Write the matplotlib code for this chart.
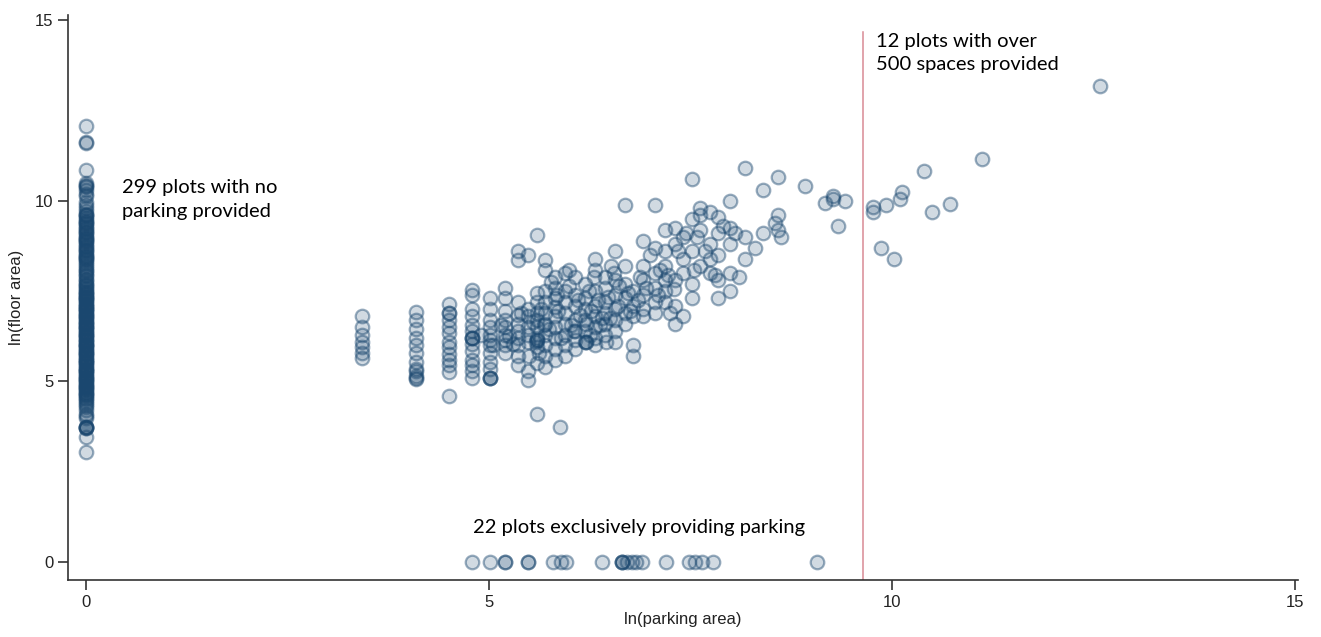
import numpy as np
from matplotlib import pyplot as plt

# plots with no parking (x = 0)
no_parking_y = [12.08, 11.63, 11.6, 10.87, 10.5, 10.45, 10.38, 10.3, 10.15, 9.97, 9.9,
                9.8, 9.72, 9.6, 9.55, 9.45, 9.4, 9.3, 9.22, 9.15, 9.05, 8.98, 8.9, 8.8,
                8.72, 8.65, 8.55, 8.47, 8.4, 8.3, 8.2, 8.1, 8.0, 7.92, 7.85, 7.75, 7.68,
                7.6, 7.5, 7.42, 7.35, 7.3, 7.22, 7.15, 7.08, 7.0, 6.95, 6.88, 6.8, 6.72,
                6.65, 6.6, 6.52, 6.45, 6.38, 6.3, 6.22, 6.15, 6.1, 6.02, 5.95, 5.88, 5.8,
                5.72, 5.65, 5.58, 5.5, 5.42, 5.35, 5.28, 5.2, 5.12, 5.05, 4.98, 4.9,
                4.82, 4.75, 4.68, 4.6, 4.5, 4.4, 4.3, 4.2, 4.1, 4.0, 3.75, 3.72, 3.7,
                3.45, 3.05,
                10.4, 10.2, 9.65, 9.5, 9.35, 9.25, 9.1, 9.0, 8.95, 8.85, 8.75, 8.6,
                8.5, 8.45, 8.35, 8.25, 8.15, 8.05, 7.95, 7.8, 7.7, 7.65, 7.55, 7.45,
                7.4, 7.33, 7.25, 7.18, 7.1, 7.05, 6.98, 6.9, 6.83, 6.75, 6.68, 6.62,
                6.55, 6.48, 6.4, 6.33, 6.25, 6.18, 6.12, 6.05, 5.98, 5.9, 5.83, 5.75,
                5.68, 5.6, 5.53, 5.45, 5.38, 5.3, 5.22, 5.15, 5.08, 5.0, 4.93, 4.85,
                4.78, 4.7, 4.62, 4.55, 4.45, 4.35, 4.05, 3.74,
                9.62, 9.42, 9.18, 8.92, 8.68, 8.42, 7.48, 7.28, 7.02, 6.78, 6.5, 6.28,
                6.0, 5.78, 5.55, 5.32, 5.1, 4.88, 4.65, 3.73]

# plots providing both floor area and parking
both_x = [3.42] * 7 + [4.09] * 10 + [4.50] * 12 + [4.79] * 13 + [5.01] * 11 \
    + [5.20] * 9 + [5.36] * 10 + [5.48] * 8 + [5.60] * 10 + [5.70] * 10 \
    + [5.82] * 9 + [5.88] + [5.94] * 7 + [6.07] * 7 + [6.19] * 6 + [6.32] * 8 \
    + [6.44] * 6 + [6.56] * 7 + [6.69] * 6 + [6.79] * 5 + [6.91] * 6 + [7.06] * 6 \
    + [7.18] * 6 + [7.31] * 5 + [7.41] * 4 + [7.52] * 5 + [7.62] * 4 + [7.74] * 4 \
    + [7.84] * 5 + [7.99] * 5 + [8.18] * 3 + [8.40] * 2 + [8.59] * 3 + [8.92] \
    + [9.17] + [9.27] * 2 + [9.33] + [9.42] \
    + [5.55, 5.65, 5.75, 5.77, 5.86, 5.90, 5.99, 6.02, 6.10, 6.13, 6.24, 6.27,
       6.35, 6.38, 6.48, 6.50, 6.52, 6.60, 6.62, 6.72, 6.75, 6.85, 6.87, 6.95,
       7.00, 7.10, 7.12, 7.22, 7.25, 7.35, 7.45, 7.55, 7.58, 7.68, 7.80, 7.90,
       8.05, 8.10, 8.30, 8.55, 8.62, 5.30, 5.40, 5.15, 5.25, 5.05, 4.90, 5.58,
       5.62, 6.20, 6.45, 6.05, 5.85, 6.30, 6.55, 6.00, 5.50, 5.95, 6.25, 7.30,
       5.01, 5.01, 4.79, 4.79, 4.09, 4.09, 4.50, 5.60, 5.60, 6.20, 6.20, 5.68, 6.40]
both_y = [6.81, 6.5, 6.3, 6.1, 5.95, 5.8, 5.65,
          6.92, 6.7, 6.45, 6.2, 6.0, 5.8, 5.55, 5.35, 5.15, 5.07,
          7.15, 6.9, 6.7, 6.5, 6.35, 6.1, 5.95, 5.75, 5.6, 5.45, 5.25, 4.6,
          7.53, 7.4, 7.0, 6.8, 6.55, 6.4, 6.2, 6.05, 5.85, 5.6, 5.45, 5.3, 5.1,
          7.3, 7.0, 6.7, 6.5, 6.3, 6.15, 6.0, 5.8, 5.55, 5.35, 5.1,
          7.6, 7.3, 6.95, 6.7, 6.5, 6.3, 6.15, 6.0, 5.8,
          8.6, 8.35, 7.2, 6.85, 6.6, 6.4, 6.2, 6.0, 5.7, 5.45,
          8.5, 7.0, 6.8, 6.5, 6.3, 6.1, 5.3, 5.05,
          9.05, 7.45, 7.2, 6.9, 6.7, 6.5, 6.2, 5.95, 5.5, 4.1,
          8.35, 8.1, 7.5, 7.2, 6.9, 6.6, 6.3, 6.0, 5.7, 5.4,
          7.9, 7.6, 7.3, 7.05, 6.8, 6.5, 6.2, 5.9, 5.6,
          3.75,
          8.0, 7.5, 7.2, 6.9, 6.6, 6.3, 6.0,
          7.9, 7.4, 7.1, 6.7, 6.4, 6.15, 5.9,
          7.7, 7.3, 7.0, 6.7, 6.4, 6.1,
          8.4, 8.1, 7.5, 7.1, 6.8, 6.5, 6.2, 6.0,
          7.9, 7.6, 7.2, 6.9, 6.6, 6.3,
          8.6, 7.8, 7.4, 7.0, 6.7, 6.4, 6.1,
          9.9, 8.2, 7.7, 7.3, 6.9, 6.6,
          7.5, 7.1, 6.8, 6.0, 5.7,
          8.9, 8.2, 7.8, 7.4, 7.0, 6.8,
          9.9, 8.7, 8.0, 7.6, 7.2, 6.9,
          9.2, 8.6, 8.2, 7.8, 7.5, 7.2,
          9.25, 8.8, 7.8, 7.1, 6.6,
          9.0, 8.4, 8.0, 6.8,
          10.6, 9.5, 8.6, 7.7, 7.3,
          9.8, 9.6, 9.2, 8.2,
          9.7, 8.8, 8.4, 8.0,
          9.55, 9.1, 8.5, 7.8, 7.3,
          10.0, 9.25, 8.8, 8.0, 7.5,
          10.9, 9.0, 8.4,
          10.3, 9.1,
          10.65, 9.6, 9.2,
          10.4,
          9.95,
          10.05, 10.15,
          9.3,
          10.0,
          6.65, 7.0, 6.45, 7.75, 6.95, 6.2, 7.65, 6.55, 7.25, 6.85, 7.5, 6.95,
          7.25, 6.55, 7.35, 6.75, 8.2, 7.1, 7.65, 7.45, 6.95, 7.25, 7.9, 7.6,
          8.5, 7.4, 8.1, 7.95, 6.9, 8.6, 9.1, 8.1, 9.0, 8.6, 7.95, 9.3,
          9.1, 7.9, 8.7, 9.4, 9.0, 6.05, 6.9, 6.55, 6.25, 6.0, 6.3, 6.1,
          5.8, 6.6, 6.1, 6.4, 7.4, 7.9, 8.0, 8.1, 5.7, 5.7, 6.3, 7.55,
          5.1, 5.1, 6.2, 6.2, 5.1, 5.3, 6.9, 6.15, 6.15, 6.1, 6.1, 6.55, 6.75]

# 12 plots with over 500 spaces
big_x = [12.58, 11.12, 10.40, 10.13, 10.10, 9.93, 9.77, 9.77, 10.72, 10.50, 9.87, 10.03]
big_y = [13.17, 11.16, 10.83, 10.25, 10.05, 9.89, 9.84, 9.69, 9.92, 9.68, 8.70, 8.39]

# plots exclusively providing parking (y = 0)
parking_only_x = [4.79, 5.01, 5.20, 5.20, 5.48, 5.48, 5.80, 5.89, 5.96, 6.40, 6.65,
                  6.65, 6.65, 6.71, 6.77, 6.83, 6.90, 7.20, 7.48, 7.56, 7.64, 7.78, 9.07]

threshold = 9.64


def main():
    plot()


def plot():
    fig = plt.figure(figsize=(13.21, 6.37), dpi=100)
    ax = fig.add_axes([68 / 1321, 57 / 637, 1230 / 1321, 565 / 637])

    xs = [0.0] * len(no_parking_y) + both_x + big_x + parking_only_x
    ys = no_parking_y + both_y + big_y + [0.0] * len(parking_only_x)
    navy = (26 / 255, 71 / 255, 111 / 255)
    ax.scatter(xs, ys, s=95, facecolor=navy + (0.2,), edgecolor=navy + (0.45,),
               linewidth=1.6, zorder=3)

    ax.plot([threshold, threshold], [-0.5, 14.68], color='#d98a94', linewidth=1.1, zorder=2)

    font = ['Lato', 'DejaVu Sans']
    ax.text(0.45, 10.6, '299 plots with no\nparking provided', fontsize=14.5,
            family=font, va='top', linespacing=1.45)
    ax.text(9.8, 14.65, '12 plots with over\n500 spaces provided', fontsize=14.5,
            family=font, va='top', linespacing=1.45)
    ax.text(4.8, 0.95, '22 plots exclusively providing parking', fontsize=14.5,
            family=font, va='center')

    ax.set_xlim(-0.223, 15.04)
    ax.set_ylim(-0.5, 15.15)
    ax.set_xticks([0, 5, 10, 15])
    ax.set_yticks([0, 5, 10, 15])
    ax.spines['top'].set_visible(False)
    ax.spines['right'].set_visible(False)
    for s in ['left', 'bottom']:
        ax.spines[s].set_color('#333333')
        ax.spines[s].set_linewidth(1.2)
    ax.tick_params(length=7, width=1.2, color='#333333', labelsize=12,
                   labelcolor='#222222')
    for lbl in ax.get_xticklabels() + ax.get_yticklabels():
        lbl.set_family('Liberation Sans')
    ax.set_xlabel('ln(parking area)', fontsize=12, family='Liberation Sans',
                  color='#222222', labelpad=2)
    ax.set_ylabel('ln(floor area)', fontsize=12, family='Liberation Sans',
                  color='#222222', labelpad=8)

    plt.savefig('out.png', dpi=100)
    plt.close()


if __name__ == "__main__":
    main()
